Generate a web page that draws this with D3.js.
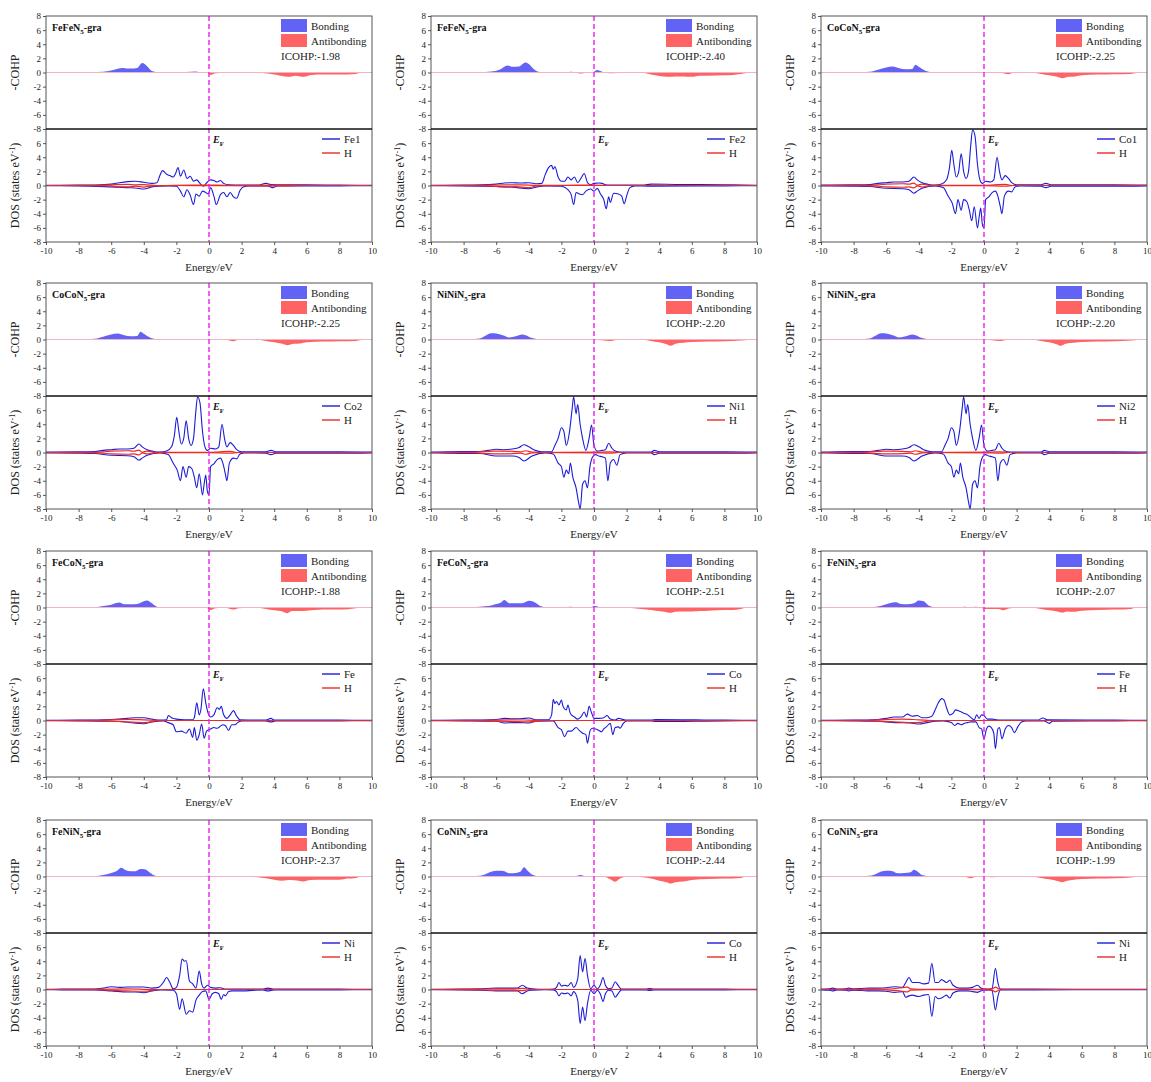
<!DOCTYPE html>
<html>
<head>
<meta charset="utf-8">
<script src="https://cdn.jsdelivr.net/npm/d3@7"></script>
<style>
  body { margin: 0; background: #fff; }
  svg text { font-family: "Liberation Serif", "Times New Roman", serif; }
</style>
</head>
<body>
<svg id="chart" width="1151" height="1082"></svg>
<script>
// ---- panel labels ----
const panelTitles = ["FeFeN5-gra", "FeFeN5-gra", "CoCoN5-gra", "CoCoN5-gra", "NiNiN5-gra", "NiNiN5-gra",
                     "FeCoN5-gra", "FeCoN5-gra", "FeNiN5-gra", "FeNiN5-gra", "CoNiN5-gra", "CoNiN5-gra"];
const metalLabels = ["Fe1", "Fe2", "Co1", "Co2", "Ni1", "Ni2", "Fe", "Co", "Fe", "Ni", "Co", "Ni"];
const icohpValues = [-1.98, -2.40, -2.25, -2.25, -2.20, -2.20, -1.88, -2.51, -2.07, -2.37, -2.44, -1.99];
const energyTicks = [-10, -8, -6, -4, -2, 0, 2, 4, 6, 8, 10];
const cohpTicks = [-8, -6, -4, -2, 0, 2, 4, 6, 8];
const dosTicks = [-8, -6, -4, -2, 0, 2, 4, 6];

// ---- FeFeN5-gra, Fe1 ----
const cohpFeFe1 = [[-10,0],[-8,0.02],[-6.5,0.1],[-6,0.3],[-5.3,0.65],[-5,0.55],[-4.8,0.55],[-4.4,0.65],[-4.1,1.35],[-3.8,0.9],[-3.5,0.2],[-3.2,0.05],[-2,0.02],[-0.8,0.15],[-0.5,0.02],[-0.1,0],[0.1,-0.35],[0.4,-0.1],[1,-0.08],[2,-0.05],[3,-0.02],[3.8,-0.2],[4.4,-0.45],[4.9,-0.6],[5.3,-0.45],[5.8,-0.6],[6.3,-0.35],[7,-0.3],[8,-0.3],[9,-0.2],[9.3,-0.05],[10,0]];
const dosUpFeFe1 = [[-10,0.03],[-8,0.05],[-7,0.08],[-6,0.2],[-5.5,0.4],[-5,0.55],[-4.5,0.6],[-4,0.45],[-3.5,0.3],[-3.2,0.4],[-3,1.5],[-2.85,2.1],[-2.6,1.6],[-2.4,1.4],[-2.2,1.2],[-2.05,1.7],[-1.9,2.55],[-1.75,1.3],[-1.55,2.2],[-1.35,1.0],[-1.15,1.3],[-0.95,0.6],[-0.75,0.8],[-0.55,0.3],[-0.35,-0.1],[-0.1,0.5],[0.1,0.8],[0.3,0.7],[0.5,0.5],[0.7,0.7],[0.9,0.3],[1.2,0.1],[2,0.05],[3,0.05],[3.5,0.3],[3.8,0.15],[4.5,0.1],[6,0.1],[8,0.05],[10,0.03]];
const dosDnFeFe1 = [[-10,-0.03],[-8,-0.05],[-6,-0.2],[-5,-0.3],[-4.5,-0.35],[-4,-0.5],[-3.5,-0.2],[-3,-0.1],[-2.5,-0.05],[-2,-0.1],[-1.75,-0.8],[-1.55,-1.6],[-1.35,-0.6],[-1.15,-1.4],[-0.95,-2.7],[-0.8,-1.2],[-0.6,-1.5],[-0.4,-0.8],[-0.2,-1.0],[-0.05,-1.2],[0.1,-0.3],[0.3,-1.5],[0.45,-2.7],[0.7,-1.3],[0.9,-1.0],[1.1,-1.6],[1.3,-1.0],[1.5,-1.6],[1.7,-1.8],[1.9,-0.7],[2.1,-0.2],[2.5,-0.05],[3.6,-0.05],[3.9,-0.3],[4.2,-0.05],[8,-0.05],[10,-0.03]];
const hUpFeFe1 = [[-10,0],[-7,0.02],[-6,0.1],[-5,0.15],[-4.5,0.1],[-4,0.12],[-3.2,0],[-1,0.05],[0.5,0.05],[1.5,0],[4.8,0.05],[6,0],[10,0]];
const hDnFeFe1 = [[-10,0],[-7,-0.02],[-6,-0.05],[-5.5,-0.2],[-5,-0.2],[-4.5,-0.1],[-4,-0.22],[-3.5,-0.05],[-2,0],[4.5,-0.05],[6,0],[10,0]];

// ---- FeFeN5-gra, Fe2 ----
const cohpFeFe2 = [[-10,0],[-7,0.05],[-6.3,0.15],[-5.8,0.4],[-5.3,1.0],[-5,0.8],[-4.6,0.85],[-4.2,1.4],[-4,1.2],[-3.7,0.5],[-3.4,0.1],[-3,0.02],[-1.7,0.02],[-1.4,0.1],[-1.1,0],[-0.8,-0.15],[-0.5,-0.05],[-0.1,0],[0.2,0.35],[0.4,0.2],[0.6,0],[1,-0.1],[2,-0.05],[3,-0.05],[3.5,-0.3],[4,-0.5],[4.5,-0.6],[5,-0.55],[5.5,-0.55],[6,-0.6],[6.5,-0.45],[7,-0.45],[8,-0.4],[8.5,-0.35],[9,-0.2],[9.5,-0.05],[10,0]];
const dosUpFeFe2 = [[-10,0.03],[-8,0.05],[-6,0.2],[-5.5,0.35],[-5,0.4],[-4.5,0.35],[-4,0.4],[-3.5,0.25],[-3.2,0.3],[-3,1.5],[-2.8,2.5],[-2.6,2.85],[-2.5,2.3],[-2.4,2.7],[-2.2,1.2],[-2,0.6],[-1.8,0.6],[-1.6,1.2],[-1.4,0.8],[-1.2,1.2],[-1,0.4],[-0.8,1.0],[-0.6,1.7],[-0.4,0.4],[-0.2,0.1],[0,0.3],[0.3,0.35],[0.5,0.3],[0.7,0.1],[1,0.05],[3,0.05],[3.5,0.2],[5,0.15],[8,0.1],[10,0.03]];
const dosDnFeFe2 = [[-10,-0.03],[-8,-0.05],[-6,-0.15],[-5,-0.25],[-4,-0.45],[-3.5,-0.2],[-3,-0.05],[-2,-0.1],[-1.6,-0.6],[-1.4,-1.3],[-1.25,-2.7],[-1.1,-1.0],[-0.9,-1.2],[-0.7,-1.3],[-0.5,-0.8],[-0.2,-0.5],[0,-0.8],[0.2,-0.4],[0.4,-1.2],[0.6,-2.0],[0.75,-3.3],[0.9,-1.6],[1,-2.4],[1.2,-1.1],[1.5,-1.2],[1.7,-1.5],[1.85,-2.6],[2,-1.5],[2.2,-0.3],[2.5,-0.05],[3.5,-0.1],[8,-0.05],[10,-0.03]];
const hUpFeFe2 = [[-10,0],[-7,0.02],[-5.5,0.1],[-4.5,0.1],[-3.5,0.02],[0,0.05],[1,0],[10,0]];
const hDnFeFe2 = [[-10,0],[-7,-0.02],[-5.5,-0.2],[-4.8,-0.15],[-4,-0.3],[-3.5,-0.05],[-2,0],[10,0]];

// ---- CoCoN5-gra (Co1 and Co2 give the same curves) ----
const cohpCoCo = [[-10,0],[-8,0.02],[-7,0.1],[-6.5,0.4],[-6,0.7],[-5.6,0.85],[-5.2,0.6],[-4.8,0.45],[-4.4,0.5],[-4.2,1.1],[-4,0.8],[-3.6,0.25],[-3.2,0.05],[-3,0],[0.5,0],[1,-0.05],[1.5,-0.25],[1.8,-0.05],[3,-0.05],[3.5,-0.2],[4,-0.4],[4.5,-0.6],[4.8,-0.8],[5.2,-0.6],[5.6,-0.55],[6,-0.4],[7,-0.3],[8,-0.25],[9,-0.2],[9.5,-0.05],[10,0]];
const dosUpCoCo = [[-10,0.05],[-8,0.1],[-7,0.15],[-6.5,0.3],[-6,0.4],[-5.5,0.5],[-5,0.5],[-4.6,0.6],[-4.3,1.2],[-4.1,0.8],[-3.8,0.4],[-3.4,0.15],[-3,0.05],[-2.6,0.2],[-2.3,0.8],[-2.12,2.5],[-1.98,5.0],[-1.85,3.0],[-1.7,1.2],[-1.55,2.0],[-1.4,4.5],[-1.25,2.0],[-1.1,1.0],[-0.95,2.0],[-0.82,5.5],[-0.7,7.9],[-0.55,7.0],[-0.4,3.0],[-0.25,0.8],[-0.1,0.3],[0.1,0.6],[0.4,0.5],[0.6,0.8],[0.8,4.0],[0.95,2.0],[1.1,0.8],[1.3,1.4],[1.5,1.0],[1.7,0.4],[2,0.1],[3.5,0.1],[3.8,0.3],[4.1,0.1],[6,0.1],[8,0.1],[10,0.05]];
const dosDnCoCo = [[-10,-0.05],[-8,-0.1],[-7,-0.15],[-6,-0.4],[-5,-0.45],[-4.6,-0.6],[-4.3,-1.1],[-4.1,-0.8],[-3.8,-0.4],[-3,-0.05],[-2.5,-0.3],[-2.2,-1.5],[-1.95,-2.5],[-1.75,-4.0],[-1.6,-2.0],[-1.4,-3.5],[-1.25,-2.0],[-1.05,-2.3],[-0.9,-3.5],[-0.75,-5.0],[-0.6,-3.0],[-0.4,-6.0],[-0.3,-4.5],[-0.2,-3.2],[-0.1,-5.5],[0,-6.0],[0.1,-2.0],[0.3,-1.6],[0.5,-1.0],[0.7,-0.8],[0.85,-1.5],[1,-3.0],[1.1,-4.0],[1.25,-1.5],[1.5,-0.8],[1.7,-0.9],[1.9,-0.2],[2.2,-0.05],[3.5,-0.1],[3.8,-0.3],[4.1,-0.1],[8,-0.1],[10,-0.05]];
const hUpCoCo = [[-10,0],[-7.5,0.02],[-6.5,0.1],[-6,0.2],[-5,0.25],[-4.6,0.2],[-4.3,0.35],[-4.1,0.05],[-3.8,0.2],[-3.3,0.02],[0,0.02],[1.3,0.15],[1.8,0],[10,0]];
const hDnCoCo = [[-10,0],[-7.5,-0.02],[-6.5,-0.1],[-6,-0.2],[-5,-0.25],[-4.6,-0.2],[-4.3,-0.35],[-4.1,-0.05],[-3.8,-0.2],[-3.3,-0.02],[0,-0.02],[1.3,-0.1],[1.8,0],[10,0]];

// ---- NiNiN5-gra (Ni1 and Ni2 give the same curves) ----
const cohpNiNi = [[-10,0],[-8,0.02],[-7,0.15],[-6.7,0.5],[-6.3,0.9],[-6,0.85],[-5.6,0.6],[-5.2,0.3],[-4.8,0.45],[-4.4,0.7],[-4.2,0.6],[-3.8,0.2],[-3.4,0.05],[-3,0],[-0.3,0],[0,-0.05],[0.5,-0.1],[1,-0.2],[1.5,-0.05],[3,-0.05],[3.5,-0.2],[4,-0.4],[4.5,-0.7],[4.7,-0.9],[5,-0.6],[5.5,-0.45],[6,-0.35],[7,-0.3],[8,-0.25],[9,-0.15],[9.5,-0.03],[10,0]];
const dosUpNiNi = [[-10,0.05],[-9,0.1],[-7,0.15],[-6.5,0.3],[-6,0.45],[-5.5,0.4],[-5,0.5],[-4.6,0.7],[-4.3,1.1],[-4,0.8],[-3.6,0.3],[-3.2,0.1],[-2.6,0.1],[-2.4,1.0],[-2.2,2.0],[-2,3.5],[-1.85,3.0],[-1.7,1.0],[-1.5,3.0],[-1.35,6.0],[-1.25,7.9],[-1.1,5.5],[-1,6.8],[-0.85,4.0],[-0.7,2.0],[-0.5,0.3],[-0.3,2.0],[-0.15,3.9],[0,1.0],[0.2,0.2],[0.5,0.3],[0.7,0.4],[0.9,1.3],[1.1,0.6],[1.3,0.2],[1.6,0.05],[3.5,0.05],[3.7,0.3],[4,0.1],[8,0.1],[10,0.05]];
const dosDnNiNi = [[-10,-0.05],[-9,-0.1],[-7,-0.15],[-6,-0.5],[-5,-0.5],[-4.6,-0.7],[-4.3,-1.2],[-3.8,-0.5],[-3,-0.05],[-2.5,-0.2],[-2.2,-1.5],[-2,-2.0],[-1.85,-3.5],[-1.7,-2.5],[-1.55,-3.0],[-1.45,-1.5],[-1.3,-3.5],[-1.1,-5.0],[-0.95,-7.0],[-0.85,-8.0],[-0.7,-4.5],[-0.55,-4.0],[-0.4,-5.0],[-0.25,-2.0],[-0.05,-0.5],[0.1,-0.3],[0.3,-0.5],[0.5,-0.6],[0.7,-0.8],[0.85,-4.0],[1,-1.5],[1.2,-1.0],[1.4,-1.8],[1.6,-0.3],[2,-0.05],[3.5,-0.05],[3.7,-0.3],[4,-0.1],[8,-0.1],[10,-0.05]];
const hUpNiNi = [[-10,0],[-7.5,0.02],[-6.5,0.15],[-6.2,0.2],[-5.5,0.2],[-4.5,0.1],[-4.2,0.25],[-3.8,0.05],[-3,0],[0.5,0.05],[1,0.1],[1.5,0],[10,0]];
const hDnNiNi = [[-10,0],[-7.5,-0.02],[-6.5,-0.15],[-6.2,-0.2],[-5.5,-0.2],[-4.5,-0.1],[-4.2,-0.25],[-3.8,-0.05],[-3,0],[0.5,-0.05],[1,-0.1],[1.5,0],[10,0]];

// ---- FeCoN5-gra, Fe ----
const cohpFeCoFe = [[-10,0],[-7,0.05],[-6.5,0.2],[-6,0.4],[-5.5,0.7],[-5.2,0.45],[-4.8,0.45],[-4.4,0.5],[-4,0.9],[-3.8,1.0],[-3.5,0.6],[-3.2,0.1],[-3,0],[-0.5,0.05],[-0.2,0],[0.1,-0.35],[0.4,-0.1],[1,-0.05],[1.5,-0.3],[1.8,-0.1],[3,-0.05],[3.5,-0.2],[4,-0.4],[4.5,-0.55],[4.8,-0.8],[5.1,-0.5],[5.5,-0.5],[6,-0.45],[7,-0.3],[8,-0.3],[9,-0.1],[9.3,0],[10,0]];
const dosUpFeCoFe = [[-10,0.03],[-8,0.05],[-6,0.15],[-5,0.3],[-4.5,0.4],[-4,0.4],[-3.5,0.2],[-3,0.05],[-2.6,0.1],[-2.5,0.7],[-2.3,0.4],[-2,0.2],[-1.5,0.1],[-1,0.1],[-0.9,0.4],[-0.75,2.5],[-0.6,0.8],[-0.5,1.5],[-0.35,4.5],[-0.2,2.5],[-0.05,1.0],[0.1,0.5],[0.3,0.8],[0.5,1.8],[0.65,1.6],[0.75,2.0],[0.9,0.8],[1.1,0.3],[1.3,0.8],[1.5,1.4],[1.7,0.6],[1.9,0.1],[3.5,0.05],[3.8,0.3],[4,0.05],[8,0.05],[10,0.03]];
const dosDnFeCoFe = [[-10,-0.03],[-8,-0.05],[-6,-0.1],[-5,-0.25],[-4.5,-0.4],[-4,-0.45],[-3.5,-0.2],[-2.8,-0.05],[-2.5,-0.3],[-2.2,-0.6],[-2,-1.6],[-1.7,-1.5],[-1.4,-1.8],[-1.2,-1.2],[-1,-2.4],[-0.9,-1.0],[-0.75,-2.8],[-0.6,-2.0],[-0.45,-0.5],[-0.3,-2.5],[-0.15,-1.5],[0.1,-1.2],[0.3,-1.0],[0.5,-1.1],[0.7,-0.8],[0.85,-0.6],[1,-0.7],[1.2,-1.4],[1.4,-0.6],[1.6,-0.6],[1.75,-0.3],[2,-0.05],[3.5,-0.05],[3.8,-0.2],[4.1,-0.05],[8,-0.05],[10,-0.03]];
const hUpFeCoFe = [[-10,0],[-7,0.02],[-5,0.15],[-4,0.1],[-3,0],[10,0]];
const hDnFeCoFe = [[-10,0],[-7,-0.02],[-5,-0.2],[-4,-0.3],[-3,0],[10,0]];

// ---- FeCoN5-gra, Co ----
const cohpFeCoCo = [[-10,0],[-7.5,0.05],[-6.5,0.2],[-6,0.5],[-5.7,0.7],[-5.5,1.05],[-5.2,0.6],[-4.8,0.6],[-4.4,0.6],[-4,0.95],[-3.7,0.8],[-3.3,0.2],[-3,0.05],[-2,0.02],[-1.4,0.12],[-1.2,0.02],[-0.2,0.02],[0,0.2],[0.2,0.15],[0.4,0],[1,-0.05],[2,-0.05],[3.2,-0.3],[3.8,-0.45],[4.3,-0.6],[4.7,-0.75],[5,-0.6],[5.5,-0.55],[6,-0.55],[6.5,-0.5],[7,-0.45],[8,-0.35],[8.5,-0.35],[9,-0.2],[9.3,-0.03],[10,0]];
const dosUpFeCoCo = [[-10,0.03],[-8,0.05],[-6,0.15],[-5.5,0.3],[-5,0.25],[-4.5,0.25],[-4,0.35],[-3.5,0.1],[-2.8,0.1],[-2.6,0.8],[-2.5,3.0],[-2.4,2.4],[-2.3,2.7],[-2.15,2.2],[-2,2.9],[-1.9,2.0],[-1.7,1.5],[-1.6,2.2],[-1.45,1.0],[-1.2,0.5],[-1,0.2],[-0.8,0.5],[-0.6,1.2],[-0.45,0.5],[-0.3,2.0],[-0.15,1.1],[0,0.3],[0.3,0.3],[0.6,0.4],[0.8,0.7],[1,0.2],[1.3,0.05],[1.5,0.3],[1.7,0.2],[2,0.05],[3.5,0.05],[3.8,0.15],[8,0.05],[10,0.03]];
const dosDnFeCoCo = [[-10,-0.03],[-8,-0.05],[-6,-0.1],[-5.5,-0.35],[-5,-0.3],[-4.5,-0.3],[-4,-0.35],[-3.5,-0.1],[-2.5,-0.05],[-2.2,-1.0],[-2,-1.3],[-1.8,-2.3],[-1.6,-1.5],[-1.4,-1.5],[-1.1,-1.0],[-0.9,-1.4],[-0.7,-1.8],[-0.5,-2.0],[-0.4,-3.2],[-0.25,-1.5],[-0.1,-1.1],[0.1,-1.2],[0.3,-1.4],[0.45,-1.6],[0.6,-1.2],[0.8,-0.8],[1,-0.4],[1.15,-2.0],[1.3,-1.0],[1.5,-0.9],[1.6,-1.1],[1.8,-0.4],[2,-0.05],[3.5,-0.05],[3.8,-0.15],[8,-0.05],[10,-0.03]];
const hUpFeCoCo = [[-10,0],[-7,0.02],[-5,0.1],[-4,0.05],[-3,0],[10,0]];
const hDnFeCoCo = [[-10,0],[-7,-0.02],[-5,-0.15],[-4,-0.2],[-3,0],[10,0]];

// ---- FeNiN5-gra, Fe ----
const cohpFeNiFe = [[-10,0],[-7,0.05],[-6.5,0.15],[-6,0.45],[-5.6,0.7],[-5.4,0.75],[-5.1,0.5],[-4.7,0.45],[-4.3,0.6],[-4,1.0],[-3.7,0.9],[-3.4,0.3],[-3,0.05],[-2,0.05],[-1.8,0.08],[-1.5,0.03],[-1.2,0.12],[-0.8,0.05],[-0.5,0.12],[-0.2,0.02],[0,-0.2],[0.5,-0.2],[0.9,-0.2],[1.2,-0.4],[1.5,-0.15],[2,-0.05],[3,-0.05],[3.5,-0.2],[4,-0.4],[4.5,-0.55],[4.8,-0.7],[5.1,-0.55],[5.5,-0.6],[6,-0.45],[7,-0.35],[8,-0.3],[9,-0.2],[9.3,-0.03],[10,0]];
const dosUpFeNiFe = [[-10,0.03],[-8,0.05],[-6.5,0.15],[-6,0.3],[-5.5,0.5],[-5,0.5],[-4.7,0.9],[-4.4,0.6],[-4.1,0.7],[-3.8,0.4],[-3.5,0.4],[-3.2,0.6],[-3,1.5],[-2.8,2.5],[-2.6,3.1],[-2.45,2.9],[-2.3,1.8],[-2.1,0.8],[-1.9,1.0],[-1.75,1.5],[-1.5,1.3],[-1.2,1.0],[-1,0.8],[-0.8,0.4],[-0.6,0.1],[-0.45,0.8],[-0.3,0.3],[-0.15,0.8],[0,0.7],[0.2,0.2],[0.5,0.2],[0.8,0.1],[1,0.05],[3.3,0.05],[3.6,0.35],[3.9,0.1],[8,0.05],[10,0.03]];
const dosDnFeNiFe = [[-10,-0.03],[-8,-0.05],[-6.5,-0.1],[-6,-0.2],[-5.5,-0.3],[-5,-0.3],[-4.5,-0.35],[-4,-0.5],[-3.5,-0.3],[-3,-0.1],[-2.5,-0.05],[-2,-0.3],[-1.8,-0.7],[-1.6,-0.4],[-1.4,-0.6],[-1.2,-0.4],[-1,-0.3],[-0.8,-0.2],[-0.5,-0.2],[-0.3,-1.0],[-0.15,-1.2],[0,-2.6],[0.15,-1.2],[0.3,-0.8],[0.45,-1.0],[0.6,-1.8],[0.7,-4.0],[0.85,-1.2],[0.95,-1.0],[1.1,-2.6],[1.3,-1.2],[1.5,-0.7],[1.7,-1.0],[1.85,-1.7],[2.1,-0.8],[2.3,-0.2],[2.6,-0.05],[3.7,-0.05],[4,-0.4],[4.2,-0.1],[8,-0.05],[10,-0.03]];
const hUpFeNiFe = [[-10,0],[-7,0.02],[-6,0.15],[-5,0.2],[-4,0.1],[-3,0],[10,0]];
const hDnFeNiFe = [[-10,0],[-7,-0.02],[-5.5,-0.2],[-4.2,-0.3],[-3,0],[10,0]];

// ---- FeNiN5-gra, Ni ----
const cohpFeNiNi = [[-10,0],[-7,0.05],[-6.5,0.2],[-6,0.5],[-5.6,0.9],[-5.4,1.25],[-5.1,0.9],[-4.8,0.75],[-4.5,0.75],[-4.2,1.05],[-3.9,1.0],[-3.6,0.5],[-3.3,0.1],[-3,0.02],[-1.5,0],[-1,-0.05],[-0.5,0],[0,0.1],[0.3,0.05],[0.6,0],[1,-0.05],[2,-0.05],[3,-0.1],[3.5,-0.25],[4,-0.45],[4.5,-0.6],[5,-0.5],[5.5,-0.6],[5.8,-0.7],[6.2,-0.5],[7,-0.45],[8,-0.45],[8.5,-0.3],[9,-0.2],[9.3,-0.03],[10,0]];
const dosUpFeNiNi = [[-10,0.03],[-9,0.05],[-7,0.08],[-6.5,0.2],[-6,0.4],[-5.5,0.3],[-5,0.35],[-4.5,0.35],[-4,0.35],[-3.5,0.2],[-3.1,0.3],[-2.8,1.0],[-2.6,1.7],[-2.4,1.0],[-2.2,0.1],[-2,0.3],[-1.8,2.0],[-1.65,4.3],[-1.5,4.0],[-1.4,4.1],[-1.2,1.2],[-1,0.8],[-0.8,0.2],[-0.6,2.6],[-0.45,0.8],[-0.3,0.2],[-0.1,0.6],[0.1,0.3],[0.4,0.2],[0.7,0.25],[1,0.05],[3.3,0.05],[3.6,0.2],[4,0.05],[8,0.05],[10,0.03]];
const dosDnFeNiNi = [[-10,-0.03],[-9,-0.05],[-7,-0.08],[-6,-0.2],[-5,-0.35],[-4.5,-0.35],[-4,-0.45],[-3.5,-0.2],[-3,-0.05],[-2.2,-0.1],[-2,-0.6],[-1.8,-2.8],[-1.65,-1.3],[-1.4,-3.5],[-1.2,-3.0],[-1,-3.2],[-0.8,-1.5],[-0.6,-0.8],[-0.4,-0.3],[-0.2,-0.2],[0,-1.4],[0.2,-0.6],[0.4,-0.4],[0.6,-0.6],[0.75,-1.4],[0.9,-0.7],[1,-0.9],[1.2,-0.3],[1.4,-0.2],[2,-0.2],[3.3,-0.05],[3.6,-0.2],[4,-0.05],[8,-0.05],[10,-0.03]];
const hUpFeNiNi = [[-10,0],[-7,0.02],[-5,0.1],[-3.5,0],[10,0]];
const hDnFeNiNi = [[-10,0],[-7,-0.02],[-5,-0.2],[-4,-0.25],[-3,0],[10,0]];

// ---- CoNiN5-gra, Co ----
const cohpCoNiCo = [[-10,0],[-8,0.02],[-7,0.1],[-6.6,0.4],[-6.2,0.75],[-5.8,0.8],[-5.5,0.75],[-5.2,0.45],[-4.8,0.5],[-4.5,0.7],[-4.3,1.3],[-4.1,0.9],[-3.8,0.3],[-3.4,0.05],[-3,0],[-1.2,0.02],[-0.8,0.2],[-0.6,0.05],[-0.2,0],[0.2,-0.05],[0.6,-0.05],[1,-0.4],[1.3,-0.75],[1.6,-0.3],[2,-0.05],[3,-0.1],[3.5,-0.3],[4,-0.6],[4.5,-0.85],[4.7,-1.0],[5,-0.8],[5.5,-0.7],[6,-0.5],[7,-0.35],[8,-0.3],[9,-0.2],[9.3,-0.03],[10,0]];
const dosUpCoNiCo = [[-10,0.03],[-8,0.05],[-7,0.1],[-6,0.2],[-5,0.2],[-4.7,0.2],[-4.4,0.6],[-4.1,0.2],[-3.8,0.1],[-3,0.02],[-2.5,0.05],[-2.3,0.3],[-2.15,1.0],[-2,0.5],[-1.8,0.6],[-1.6,0.5],[-1.4,1.0],[-1.25,0.3],[-1,1.5],[-0.85,4.8],[-0.7,2.5],[-0.55,4.4],[-0.4,2.0],[-0.2,0.1],[0,0.6],[0.2,0.1],[0.4,0.7],[0.55,1.7],[0.7,0.6],[0.9,0.1],[1.1,0.2],[1.3,1.1],[1.5,0.5],[1.7,0.05],[3.2,0.05],[3.4,0.15],[3.7,0.05],[8,0.05],[10,0.03]];
const dosDnCoNiCo = [[-10,-0.03],[-8,-0.05],[-7,-0.1],[-6,-0.2],[-5,-0.2],[-4.7,-0.2],[-4.4,-0.6],[-4.1,-0.2],[-3.8,-0.1],[-3,-0.02],[-2.5,-0.05],[-2.3,-0.3],[-2.15,-0.9],[-2,-0.5],[-1.8,-0.6],[-1.6,-0.5],[-1.4,-0.9],[-1.25,-0.3],[-1,-1.5],[-0.85,-4.8],[-0.7,-2.5],[-0.55,-4.4],[-0.4,-2.0],[-0.2,-0.1],[0,-0.6],[0.2,-0.1],[0.4,-0.7],[0.55,-1.7],[0.7,-0.6],[0.9,-0.1],[1.1,-0.2],[1.3,-1.1],[1.5,-0.5],[1.7,-0.05],[3.2,-0.05],[3.4,-0.15],[3.7,-0.05],[8,-0.05],[10,-0.03]];
const hUpCoNiCo = [[-10,0],[-7,0.05],[-6,0.1],[-5,0.08],[-4.4,0.15],[-3.8,0],[10,0]];
const hDnCoNiCo = [[-10,0],[-7,-0.05],[-6,-0.1],[-5,-0.08],[-4.4,-0.15],[-3.8,0],[10,0]];

// ---- CoNiN5-gra, Ni ----
const cohpCoNiNi = [[-10,0],[-8,0.02],[-7,0.1],[-6.6,0.4],[-6.3,0.7],[-6,0.8],[-5.6,0.75],[-5.3,0.45],[-4.9,0.5],[-4.5,0.6],[-4.3,0.95],[-4.1,0.75],[-3.8,0.2],[-3.4,0.03],[-3,0],[-1.2,-0.05],[-0.8,-0.25],[-0.5,-0.05],[0,-0.05],[0.5,-0.1],[1,-0.02],[1.4,0.05],[2,0],[3,-0.05],[3.5,-0.2],[4,-0.4],[4.5,-0.65],[4.8,-0.8],[5.1,-0.6],[5.5,-0.45],[6,-0.35],[7,-0.3],[8,-0.25],[9,-0.15],[9.3,-0.03],[10,0]];
const dosUpCoNiNi = [[-10,0.05],[-9.5,0.1],[-9.3,0.2],[-9,0.05],[-8.5,0.1],[-8.3,0.2],[-8,0.1],[-7.5,0.15],[-7,0.2],[-6.5,0.2],[-6,0.25],[-5.5,0.4],[-5,0.3],[-4.8,1.0],[-4.6,1.7],[-4.4,1.0],[-4,1.0],[-3.7,0.8],[-3.4,0.9],[-3.2,3.7],[-3,1.0],[-2.8,1.0],[-2.6,1.4],[-2.3,1.0],[-2.1,1.3],[-1.9,0.6],[-1.5,0.2],[-1,0.2],[-0.7,0.3],[-0.4,0.6],[-0.2,0.2],[0,0.1],[0.3,0.05],[0.5,0.2],[0.7,3.0],[0.85,1.0],[1,0.05],[3,0.05],[8,0.02],[10,0.02]];
const dosDnCoNiNi = [[-10,-0.05],[-9.5,-0.1],[-9.3,-0.2],[-9,-0.05],[-8.5,-0.1],[-8.3,-0.2],[-8,-0.1],[-7.5,-0.15],[-7,-0.2],[-6.5,-0.2],[-6,-0.25],[-5.5,-0.4],[-5,-0.3],[-4.8,-1.1],[-4.6,-0.9],[-4.4,-0.8],[-4,-1.0],[-3.7,-0.8],[-3.4,-0.7],[-3.2,-3.8],[-3,-1.0],[-2.8,-1.3],[-2.6,-1.2],[-2.3,-0.8],[-2.1,-1.2],[-1.9,-0.5],[-1.5,-0.2],[-1,-0.2],[-0.7,-0.3],[-0.4,-0.4],[-0.2,-0.2],[0,-0.1],[0.3,-0.05],[0.5,-0.2],[0.7,-2.9],[0.85,-1.0],[1,-0.05],[3,-0.05],[8,-0.02],[10,-0.02]];
const hUpCoNiNi = [[-10,0],[-6,0.05],[-5,0.25],[-4.7,0.35],[-4.5,0.1],[-3.5,0.02],[0,0.02],[0.5,0.1],[0.7,0.35],[0.9,0.1],[1.2,0],[10,0]];
const hDnCoNiNi = [[-10,0],[-6,-0.05],[-5,-0.25],[-4.7,-0.35],[-4.5,-0.1],[-3.5,-0.02],[0,-0.02],[0.5,-0.1],[0.7,-0.35],[0.9,-0.1],[1.2,0],[10,0]];

// series per panel, in reading order
const cohpSeries = [cohpFeFe1, cohpFeFe2, cohpCoCo, cohpCoCo, cohpNiNi, cohpNiNi, cohpFeCoFe, cohpFeCoCo, cohpFeNiFe, cohpFeNiNi, cohpCoNiCo, cohpCoNiNi];
const dosUpSeries = [dosUpFeFe1, dosUpFeFe2, dosUpCoCo, dosUpCoCo, dosUpNiNi, dosUpNiNi, dosUpFeCoFe, dosUpFeCoCo, dosUpFeNiFe, dosUpFeNiNi, dosUpCoNiCo, dosUpCoNiNi];
const dosDnSeries = [dosDnFeFe1, dosDnFeFe2, dosDnCoCo, dosDnCoCo, dosDnNiNi, dosDnNiNi, dosDnFeCoFe, dosDnFeCoCo, dosDnFeNiFe, dosDnFeNiNi, dosDnCoNiCo, dosDnCoNiNi];
const hUpSeries = [hUpFeFe1, hUpFeFe2, hUpCoCo, hUpCoCo, hUpNiNi, hUpNiNi, hUpFeCoFe, hUpFeCoCo, hUpFeNiFe, hUpFeNiNi, hUpCoNiCo, hUpCoNiNi];
const hDnSeries = [hDnFeFe1, hDnFeFe2, hDnCoCo, hDnCoCo, hDnNiNi, hDnNiNi, hDnFeCoFe, hDnFeCoCo, hDnFeNiFe, hDnFeNiNi, hDnCoNiCo, hDnCoNiNi];

// ---- layout ----
const colLeft = [46, 431, 821];
const rowTop = [16, 283, 551, 820];
const plotW = 326;
const halfH = 113;

const C = {
  bondFill: "#6262f4",
  antiFill: "#ff6464",
  metal: "#1c1cd8",
  hydrogen: "#ec2a24",
  ef: "#f01cf0",
  frame: "#555",
  text: "#222"
};

const svg = d3.select("#chart");
const x = d3.scaleLinear().domain([-10, 10]).range([0, plotW]);
const yC = d3.scaleLinear().domain([-8, 8]).range([halfH, 0]);
const yD = d3.scaleLinear().domain([-8, 8]).range([2 * halfH, halfH]);

const hyphenFmt = d => String(d);

function styleAxis(sel) {
  sel.select(".domain").remove();
  sel.selectAll(".tick line").attr("stroke", "#444").attr("stroke-width", 0.9);
  sel.selectAll(".tick text").attr("fill", C.text).style("font-size", "9px")
    .style("font-family", "'Liberation Serif', serif");
}

panelTitles.forEach((title, i) => {
  const col = i % 3, row = Math.floor(i / 3);
  const g = svg.append("g").attr("transform", `translate(${colLeft[col]},${rowTop[row]})`);

  // clip regions
  const defs = g.append("defs");
  defs.append("clipPath").attr("id", `up${i}`).append("rect")
    .attr("x", 0).attr("y", 0).attr("width", plotW).attr("height", yC(0));
  defs.append("clipPath").attr("id", `dn${i}`).append("rect")
    .attr("x", 0).attr("y", yC(0)).attr("width", plotW).attr("height", halfH - yC(0));
  defs.append("clipPath").attr("id", `dos${i}`).append("rect")
    .attr("x", 0).attr("y", halfH).attr("width", plotW).attr("height", halfH);

  // -COHP: bonding above zero, antibonding below
  const area = d3.area().x(d => x(d[0])).y0(yC(0)).y1(d => yC(d[1])).curve(d3.curveMonotoneX);
  g.append("path").datum(cohpSeries[i]).attr("d", area).attr("fill", C.bondFill)
    .attr("clip-path", `url(#up${i})`);
  g.append("path").datum(cohpSeries[i]).attr("d", area).attr("fill", C.antiFill)
    .attr("clip-path", `url(#dn${i})`);
  g.append("line").attr("x1", 0).attr("x2", plotW).attr("y1", yC(0)).attr("y2", yC(0))
    .attr("stroke", "#f2b4c4").attr("stroke-width", 1);

  // DOS curves: metal spin up/down, then H on top
  const line = d3.line().x(d => x(d[0])).y(d => yD(d[1])).curve(d3.curveMonotoneX);
  const dosG = g.append("g").attr("clip-path", `url(#dos${i})`);
  [dosUpSeries[i], dosDnSeries[i]].forEach(s =>
    dosG.append("path").datum(s).attr("d", line).attr("fill", "none")
      .attr("stroke", C.metal).attr("stroke-width", 1.1).attr("stroke-linejoin", "round"));
  [hUpSeries[i], hDnSeries[i]].forEach(s =>
    dosG.append("path").datum(s).attr("d", line).attr("fill", "none")
      .attr("stroke", C.hydrogen).attr("stroke-width", 1.2).attr("stroke-linejoin", "round"));

  // Fermi level
  g.append("line").attr("x1", x(0)).attr("x2", x(0)).attr("y1", 0).attr("y2", 2 * halfH)
    .attr("stroke", C.ef).attr("stroke-width", 1.4).attr("stroke-dasharray", "5,3");
  const ef = g.append("text").attr("x", x(0) + 4).attr("y", halfH + 14)
    .attr("fill", "#111").style("font-size", "10px").style("font-weight", "bold").style("font-style", "italic");
  ef.append("tspan").text("E");
  ef.append("tspan").attr("dy", 2.5).style("font-size", "6.5px").style("font-style", "normal").text("F");

  // frames
  g.append("rect").attr("x", 0).attr("y", 0).attr("width", plotW).attr("height", 2 * halfH)
    .attr("fill", "none").attr("stroke", C.frame).attr("stroke-width", 1);
  g.append("line").attr("x1", 0).attr("x2", plotW).attr("y1", halfH).attr("y2", halfH)
    .attr("stroke", "#111").attr("stroke-width", 1.3);

  // axes
  g.append("g").call(d3.axisLeft(yC).tickValues(cohpTicks).tickSize(3).tickPadding(2).tickFormat(hyphenFmt)).call(styleAxis);
  g.append("g").call(d3.axisLeft(yD).tickValues(dosTicks).tickSize(3).tickPadding(2).tickFormat(hyphenFmt)).call(styleAxis);
  g.append("g").attr("transform", `translate(0,${2 * halfH})`)
    .call(d3.axisBottom(x).tickValues(energyTicks).tickSize(3).tickPadding(3).tickFormat(hyphenFmt)).call(styleAxis);

  // axis titles
  g.append("text").attr("x", plotW / 2).attr("y", 2 * halfH + 29).attr("text-anchor", "middle")
    .attr("fill", C.text).style("font-size", "11px").text("Energy/eV");
  g.append("text").attr("transform", `translate(-27,${halfH / 2}) rotate(-90)`).attr("text-anchor", "middle")
    .attr("fill", C.text).style("font-size", "12px").text("-COHP");
  const dl = g.append("text").attr("transform", `translate(-27,${halfH * 1.5}) rotate(-90)`).attr("text-anchor", "middle")
    .attr("fill", C.text).style("font-size", "12px");
  dl.append("tspan").text("DOS (states eV");
  dl.append("tspan").attr("dy", -4).style("font-size", "8px").text("-1");
  dl.append("tspan").attr("dy", 4).text(")");

  // panel title with subscript
  const m = title.match(/^(.*N)(\d)(.*)$/);
  const t = g.append("text").attr("x", 6).attr("y", 15).attr("fill", "#111")
    .style("font-size", "10px").style("font-weight", "bold");
  t.append("tspan").text(m[1]);
  t.append("tspan").attr("dy", 2.5).style("font-size", "7px").text(m[2]);
  t.append("tspan").attr("dy", -2.5).text(m[3]);

  // COHP legend
  const lx = plotW - 91;
  g.append("rect").attr("x", lx).attr("y", 3).attr("width", 26).attr("height", 13).attr("fill", C.bondFill);
  g.append("rect").attr("x", lx).attr("y", 18).attr("width", 26).attr("height", 13).attr("fill", C.antiFill);
  g.append("text").attr("x", lx + 30).attr("y", 14).attr("fill", C.text).style("font-size", "11px").text("Bonding");
  g.append("text").attr("x", lx + 30).attr("y", 29).attr("fill", C.text).style("font-size", "11px").text("Antibonding");
  g.append("text").attr("x", lx).attr("y", 44).attr("fill", C.text).style("font-size", "11px")
    .text(`ICOHP:${icohpValues[i].toFixed(2)}`);

  // DOS legend
  const dx = plotW - 50;
  [[metalLabels[i], C.metal, 10], ["H", C.hydrogen, 24]].forEach(([lab, col2, dy]) => {
    g.append("line").attr("x1", dx).attr("x2", dx + 18).attr("y1", halfH + dy).attr("y2", halfH + dy)
      .attr("stroke", col2).attr("stroke-width", 1.4);
    g.append("text").attr("x", dx + 22).attr("y", halfH + dy + 4).attr("fill", C.text)
      .style("font-size", "11px").text(lab);
  });
});
</script>
</body>
</html>
